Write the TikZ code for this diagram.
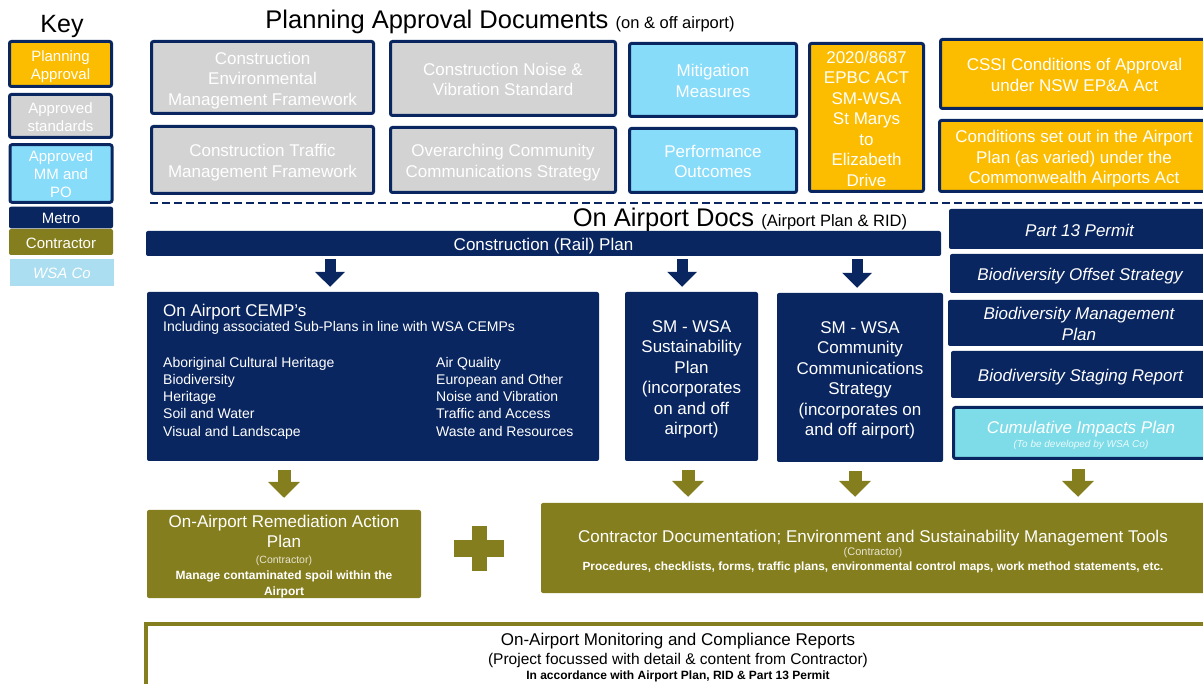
\documentclass[tikz,border=0pt]{standalone}
\usepackage{fontspec}
\setmainfont{Liberation Sans}
\usetikzlibrary{arrows.meta}

\definecolor{metronavy}{RGB}{10,38,96}
\definecolor{approvalorange}{RGB}{252,189,0}
\definecolor{standardgray}{RGB}{211,211,211}
\definecolor{measureblue}{RGB}{135,220,250}
\definecolor{contractorolive}{RGB}{133,126,30}
\definecolor{wsacyan}{RGB}{170,222,240}
\definecolor{impactcyan}{RGB}{125,220,232}

%struts to centre the text on its capitals
\newcommand\capup{\rule{0pt}{1.07em}}
\newcommand\capdown{\rule[-0.234em]{0pt}{0pt}}

\tikzset{
	docbox/.style={draw=metronavy, line width=3pt, rounded corners=2pt, text=white, align=center, inner sep=1pt, font=\fontsize{17}{20.5}\selectfont},
	approvalbox/.style={docbox, fill=approvalorange},
	standardbox/.style={docbox, fill=standardgray},
	measurebox/.style={docbox, fill=measureblue},
	metrobox/.style={fill=metronavy, rounded corners=2pt, text=white, align=center, inner sep=1pt, font=\fontsize{17}{20.5}\selectfont},
	permitbox/.style={metrobox, font=\fontsize{17}{20.5}\selectfont\itshape},
	contractorbox/.style={fill=contractorolive, rounded corners=2pt, text=white, align=center, inner sep=1pt, font=\fontsize{17}{20.5}\selectfont},
	keyfont/.style={font=\fontsize{15}{18}\selectfont},
	downnavy/.style={metronavy, line width=11pt, -{Triangle[width=29pt,length=15pt]}, shorten <=3pt, shorten >=5pt},
	downolive/.style={contractorolive, line width=13pt, -{Triangle[width=31pt,length=16pt]}, shorten <=9pt, shorten >=6pt},
}

\begin{document}
\begin{tikzpicture}[x=1pt, y=-1pt]
	\clip (0,0) rectangle (1203,684);

	%key
	\node (keytitle) at (62,33) [anchor=base] {\fontsize{25}{30}\selectfont Key};
	\node (keyplan) at (60.5,64) [approvalbox, keyfont, minimum width=102pt, minimum height=45pt]{\capup Planning\\Approval\capdown};
	\node (keystd) at (60.5,116) [standardbox, keyfont, minimum width=102pt, minimum height=43pt]{\capup Approved\\standards\capdown};
	\node (keymm) at (61,173.5) [measurebox, keyfont, minimum width=102pt, minimum height=56pt]{\capup Approved\\MM and\\PO\capdown};
	\node (keymetro) at (61,217.5) [metrobox, keyfont, minimum width=104pt, minimum height=19pt]{\capup Metro\capdown};
	\node (keycontr) at (61,242) [contractorbox, keyfont, minimum width=104pt, minimum height=26pt]{\capup Contractor\capdown};
	\node (keywsa) at (62,272.5) [fill=wsacyan, text=white, minimum width=104pt, minimum height=25pt, font=\fontsize{15}{18}\selectfont\itshape]{\capup WSA Co\capdown};

	%planning approval documents
	\node (plantitle) at (500,29) [anchor=base] {\fontsize{25.5}{30}\selectfont Planning Approval Documents \fontsize{16.5}{20}\selectfont(on \& off airport)};

	\node (cemf) at (262.5,77.5) [standardbox, minimum width=222pt, minimum height=72pt]{\capup Construction\\Environmental\\Management Framework\capdown};
	\node (cnvs) at (503,78.5) [standardbox, minimum width=225pt, minimum height=74pt]{\capup Construction Noise \&\\Vibration Standard\capdown};
	\node (mitig) at (713,80) [measurebox, minimum width=167pt, minimum height=73pt]{\capup Mitigation\\Measures\capdown};
	\node (epbc) at (866.5,117.5) [approvalbox, minimum width=114pt, minimum height=148pt]{\capup 2020/8687\\EPBC ACT\\SM-WSA\\St Marys\\to\\Elizabeth\\Drive\capdown};
	\node (cssi) at (1074.5,74) [approvalbox, minimum width=268pt, minimum height=69pt]{\capup CSSI Conditions of Approval\\under NSW EP\&A Act\capdown};
	\node (ctmf) at (262.5,160) [standardbox, minimum width=222pt, minimum height=67pt]{\capup Construction Traffic\\Management Framework\capdown};
	\node (occs) at (503,160) [standardbox, minimum width=225pt, minimum height=65pt]{\capup Overarching Community\\Communications Strategy\capdown};
	\node (perf) at (713,160.5) [measurebox, minimum width=167pt, minimum height=64pt]{\capup Performance\\Outcomes\capdown};
	\node (cond) at (1074,156) [approvalbox, minimum width=269pt, minimum height=71pt]{\capup Conditions set out in the Airport\\Plan (as varied) under the\\Commonwealth Airports Act\capdown};

	%divider
	\draw[metronavy, line width=1.5pt, dash pattern=on 8pt off 4pt] (150,203) -- (1203,203);

	%on airport docs
	\node (airtitle) at (740,227) [anchor=base] {\fontsize{25.5}{30}\selectfont On Airport Docs \fontsize{16.5}{20}\selectfont(Airport Plan \& RID)};
	\node (crp) at (543.5,243.5) [metrobox, minimum width=795pt, minimum height=25pt]{\capup Construction (Rail) Plan\capdown};

	\node (p13) at (1079.5,229) [permitbox, minimum width=261pt, minimum height=40pt]{\capup Part 13 Permit\capdown};
	\node (bos) at (1080,273.5) [permitbox, minimum width=260pt, minimum height=39pt]{\capup Biodiversity Offset Strategy\capdown};
	\node (bmp) at (1079,323) [permitbox, minimum width=262pt, minimum height=46pt]{\capup Biodiversity Management\\Plan\capdown};
	\node (bsr) at (1080.5,374.5) [permitbox, minimum width=259pt, minimum height=47pt]{\capup Biodiversity Staging Report\capdown};
	\node (cip) at (1081,433) [docbox, fill=impactcyan, minimum width=255pt, minimum height=51pt, font=\fontsize{17}{14}\selectfont\itshape]{\capup Cumulative Impacts Plan\\{\fontsize{10}{12}\selectfont\color{white!85!impactcyan}(To be developed by WSA Co)}\capdown};

	\node (cemp) at (373,376.5) [metrobox, minimum width=452pt, minimum height=169pt]{};
	\node (cemphead) at (163,304) [anchor=north west, text=white, align=left, inner sep=0pt]{\fontsize{17}{19.5}\selectfont On Airport CEMP’s\\{\fontsize{14}{17}\selectfont Including associated Sub-Plans in line with WSA CEMPs}};
	\node (cempleft) at (163,357) [anchor=north west, text=white, align=left, inner sep=0pt, font=\fontsize{14}{17.2}\selectfont]{Aboriginal Cultural Heritage\\Biodiversity\\Heritage\\Soil and Water\\Visual and Landscape};
	\node (cempright) at (436,357) [anchor=north west, text=white, align=left, inner sep=0pt, font=\fontsize{14}{17.2}\selectfont]{Air Quality\\European and Other\\Noise and Vibration\\Traffic and Access\\Waste and Resources};

	\node (sus) at (691.5,376.5) [metrobox, minimum width=133pt, minimum height=169pt]{\capup SM - WSA\\Sustainability\\Plan\\(incorporates\\on and off\\airport)\capdown};
	\node (com) at (860,377.5) [metrobox, minimum width=166pt, minimum height=169pt]{\capup SM - WSA\\Community\\Communications\\Strategy\\(incorporates on\\and off airport)\capdown};

	%contractor documents
	\node (rem) at (284,554) [contractorbox, inner ysep=0pt, minimum width=274pt, minimum height=88pt, font=\fontsize{17}{16}\selectfont]{\rule{0pt}{17pt}On-Airport Remediation Action\\[4pt]Plan\\{\fontsize{10.5}{12}\selectfont\color{white!80!contractorolive}(Contractor)}\\[-0.5pt]{\fontsize{12}{14}\selectfont\bfseries Manage contaminated spoil within the}\\{\fontsize{12}{14}\selectfont\bfseries Airport}};
	\node (cdoc) at (873,548) [contractorbox, minimum width=664pt, minimum height=90pt, font=\fontsize{17}{13}\selectfont]{\rule{0pt}{18.6pt}Contractor Documentation; Environment and Sustainability Management Tools\\{\fontsize{11}{12}\selectfont\color{white!80!contractorolive}(Contractor)}\\[2.1pt]{\fontsize{11.85}{13}\selectfont\bfseries Procedures, checklists, forms, traffic plans, environmental control maps, work method statements, etc.}};

	\draw[contractorolive, line width=16pt] (454,548.5) -- (504,548.5);
	\draw[contractorolive, line width=15pt] (479.5,526) -- (479.5,571);

	\node (mon) at (678,657.7) [draw=contractorolive, line width=4pt, fill=white, align=center, inner sep=0pt, minimum width=1064pt, minimum height=67.3pt, font=\fontsize{17}{18.5}\selectfont]{On-Airport Monitoring and Compliance Reports\\{\fontsize{15.5}{17}\selectfont (Project focussed with detail \& content from Contractor)}\\[-3.75pt]{\fontsize{12}{14}\selectfont\bfseries In accordance with Airport Plan, RID \& Part 13 Permit}};

	%arrows
	\foreach \x/\b/\n in {330/cemp/na, 682/sus/nb, 857/com/nc}{
		\coordinate (\n) at (\x,0);
		\draw[downnavy] (crp.south -| \n) -- (\b.north -| \n);
	}
	\coordinate (oa) at (284,0);
	\draw[downolive, shorten >=12pt] (cemp.south -| oa) -- (rem.north -| oa);
	\foreach \x/\a/\n in {688/sus/ob, 855/com/oc, 1078/cip/od}{
		\coordinate (\n) at (\x,0);
		\draw[downolive] (\a.south -| \n) -- (cdoc.north -| \n);
	}
\end{tikzpicture}
\end{document}
